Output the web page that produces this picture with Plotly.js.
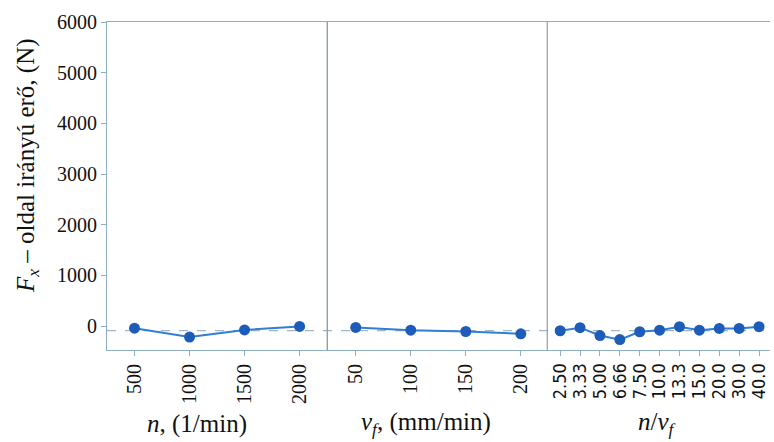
<!DOCTYPE html>
<html>
<head>
<meta charset="utf-8">
<script src="https://cdn.plot.ly/plotly-3.0.1.min.js"></script>
<style>
  html, body { margin: 0; padding: 0; background: #fff; }
  #chart { width: 774px; height: 442px; }
</style>
</head>
<body>
<div id="chart"></div>
<script>
// Main effects of cutting parameters on the side force Fx (N)
const spindleSpeed = ["500", "1000", "1500", "2000"];
const forceBySpeed = [-40, -215, -75, -5];

const feedRate = ["50", "100", "150", "200"];
const forceByFeed = [-25, -80, -105, -150];

const speedFeedRatio = ["2.50", "3.33", "5.00", "6.66", "7.50", "10.0", "13.3", "15.0", "20.0", "30.0", "40.0"];
const forceByRatio = [-90, -30, -185, -265, -110, -80, -10, -80, -45, -45, -10];

const yTicks = [0, 1000, 2000, 3000, 4000, 5000, 6000];

// overall mean drawn as the dashed reference line
const allForces = forceBySpeed.concat(forceByFeed, forceByRatio);
const meanForce = allForces.reduce((a, b) => a + b, 0) / allForces.length;

const lineColor = "#2f7fd6";
const markerColor = "#1d5cb8";
const frameColor = "#8eaec4";
const serif = "'Liberation Serif', serif";
const sans = "'DejaVu Sans Condensed', 'DejaVu Sans', sans-serif";
const ink = "#111";

function series(x, y, xa) {
  return {
    x: x, y: y, xaxis: xa, yaxis: "y",
    type: "scatter", mode: "lines+markers",
    line: { color: lineColor, width: 2 },
    marker: { color: markerColor, size: 11 },
    hoverinfo: "x+y", showlegend: false
  };
}

const data = [
  series(spindleSpeed, forceBySpeed, "x"),
  series(feedRate, forceByFeed, "x2"),
  series(speedFeedRatio, forceByRatio, "x3")
];

function xAxis(domain, range, tickFont) {
  return {
    domain: domain, type: "category", range: range,
    tickmode: "linear", dtick: 1,
    tickangle: -90, tickfont: tickFont,
    ticks: "outside", ticklen: 5, tickcolor: frameColor,
    showline: true, linecolor: frameColor, linewidth: 1, mirror: true,
    showgrid: false, zeroline: false, anchor: "y"
  };
}

// axis captions, placed under each panel
function caption(text, x) {
  return {
    text: text, xref: "paper", yref: "paper", x: x, y: -0.225,
    xanchor: "center", yanchor: "middle", showarrow: false,
    font: { family: serif, size: 25, color: ink }
  };
}

const layout = {
  width: 774, height: 442,
  margin: { l: 107, r: 4, t: 22, b: 92 },
  paper_bgcolor: "#fff", plot_bgcolor: "#fff",
  font: { family: serif, color: ink },
  xaxis: xAxis([0, 0.332], [-0.5, 3.5], { family: serif, size: 20, color: ink }),
  xaxis2: xAxis([0.332, 0.664], [-0.52, 3.48], { family: serif, size: 20, color: ink }),
  xaxis3: xAxis([0.664, 1], [-0.65, 10.55], { family: sans, size: 18, color: ink }),
  yaxis: {
    domain: [0, 1], range: [-470, 6000],
    tickmode: "array", tickvals: yTicks,
    tickfont: { family: serif, size: 20, color: ink },
    ticks: "outside", ticklen: 5, tickcolor: frameColor,
    showline: true, linecolor: frameColor, linewidth: 1, mirror: true,
    showgrid: false, zeroline: false
  },
  annotations: [
    caption("<i>n</i>, (1/min)", 0.136),
    caption("<i>v<sub>f</sub></i>, (mm/min)", 0.481),
    caption("<i>n</i>/<i>v<sub>f</sub></i>", 0.83),
    {
      text: "<i>F<sub>x</sub></i> – oldal irányú erő, (N)", textangle: -90,
      xref: "paper", yref: "paper", x: 0, xshift: -79, y: 0.561,
      xanchor: "center", yanchor: "middle", showarrow: false,
      font: { family: serif, size: 25, color: ink }
    }
  ],
  shapes: [
    { type: "line", xref: "paper", yref: "y", x0: 0, x1: 1, y0: meanForce, y1: meanForce,
      line: { color: "#9fb6c6", width: 1.2, dash: "dash" }, layer: "below" },
    { type: "line", xref: "paper", yref: "paper", x0: 0.332, x1: 0.332, y0: 0, y1: 1,
      line: { color: "#8a9aa6", width: 1 } },
    { type: "line", xref: "paper", yref: "paper", x0: 0.664, x1: 0.664, y0: 0, y1: 1,
      line: { color: "#7f8a92", width: 1 } }
  ]
};

Plotly.newPlot("chart", data, layout, { displayModeBar: false, staticPlot: true });
</script>
</body>
</html>
